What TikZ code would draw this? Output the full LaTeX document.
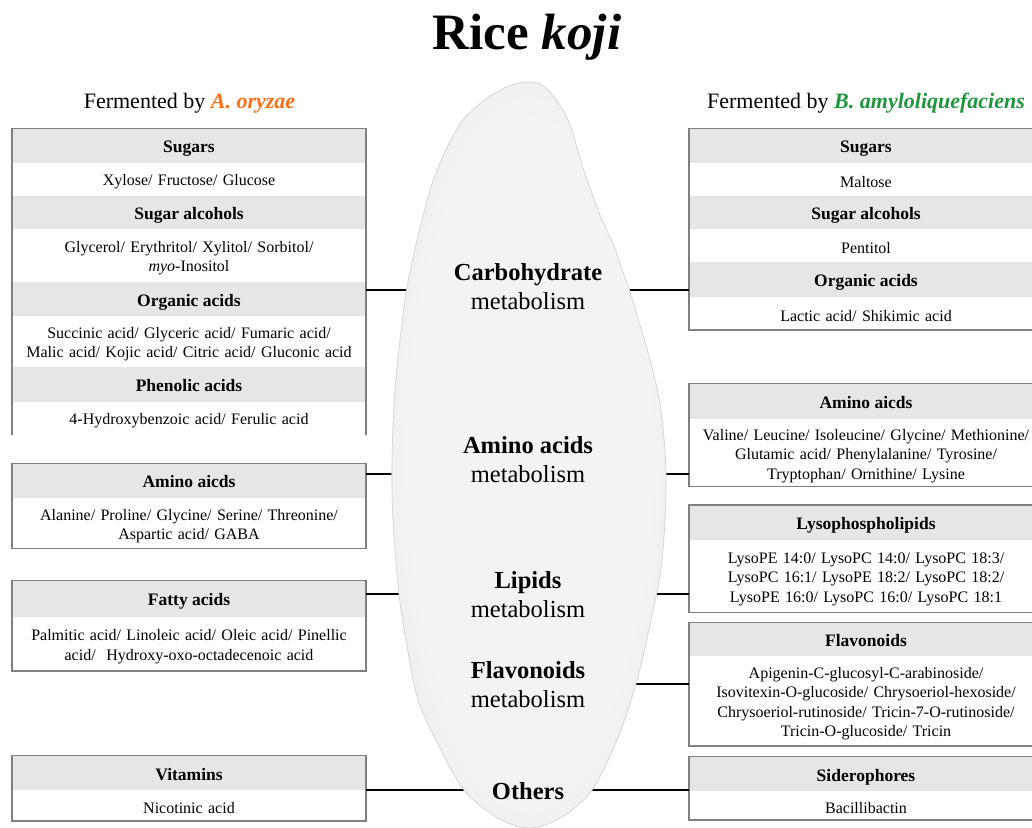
\documentclass[tikz,border=0pt]{standalone}
\usepackage{fontspec}
\setmainfont{Liberation Serif}
\usetikzlibrary{positioning}
\definecolor{hdrgray}{RGB}{230,230,230}
\definecolor{framegray}{RGB}{128,128,128}
\definecolor{oryzae}{RGB}{255,110,20}
\definecolor{bacillus}{RGB}{30,150,60}
\definecolor{grainA}{RGB}{243,243,243}
\definecolor{grainB}{RGB}{231,231,231}
\definecolor{grainC}{RGB}{214,214,214}
\pgfdeclareradialshading{grain}{\pgfpoint{0bp}{0bp}}{color(0bp)=(grainA); color(22bp)=(grainA); color(38bp)=(grainB); color(46bp)=(grainB!60!grainC); color(50bp)=(grainC)}

\begin{document}
\begin{tikzpicture}[x=1pt,y=-1pt,
    hdr/.style={fill=hdrgray, minimum width=354pt, minimum height=34.4pt, inner sep=0pt, outer sep=0pt, text height=14.4pt, text depth=0pt, font=\fontsize{17.5}{20}\selectfont\bfseries},
    item/.style={minimum width=354pt, text width=350pt, align=center, inner sep=0pt, outer sep=0pt, execute at begin node={\rule{0pt}{16.5pt}}, font=\fontsize{16}{19.5}\selectfont},
    frame/.style={draw=framegray, line width=1.2pt},
    link/.style={line width=1.7pt},
    stage/.style={align=center, font=\fontsize{24.5}{29}\selectfont}]
    \useasboundingbox (0,0) rectangle (1032,827);

    \node[font=\fontsize{51}{55}\selectfont\bfseries, anchor=base] (title) at (527,49.5) {Rice \textit{koji}};
    \node[font=\fontsize{22}{24}\selectfont, anchor=base] (fermL) at (189.5,108) {Fermented by \textcolor{oryzae}{\textbf{\textit{A. oryzae}}}};
    \node[font=\fontsize{22}{24}\selectfont, anchor=base] (fermR) at (866,108) {Fermented by \textcolor{bacillus}{\textbf{\textit{B. amyloliquefaciens}}}};

    % A. oryzae
    \node[hdr, anchor=north west] (lsug) at (12,128.3) {Sugars};
    \node[item, minimum height=33.3pt, below=0pt of lsug] (lsug2) {Xylose/ Fructose/ Glucose};
    \node[hdr, minimum height=33.3pt, below=0pt of lsug2] (lalc) {Sugar alcohols};
    \node[item, minimum height=52.4pt, below=0pt of lalc] (lalc2) {Glycerol/ Erythritol/ Xylitol/ Sorbitol/\\ \textit{myo}-Inositol};
    \node[hdr, below=0pt of lalc2] (lorg) {Organic acids};
    \node[item, minimum height=51pt, below=0pt of lorg] (lorg2) {Succinic acid/ Glyceric acid/ Fumaric acid/\\ Malic acid/ Kojic acid/ Citric acid/ Gluconic acid};
    \node[hdr, minimum height=34.7pt, below=0pt of lorg2] (lphe) {Phenolic acids};
    \node[item, minimum height=33.3pt, below=0pt of lphe] (lphe2) {4-Hydroxybenzoic acid/ Ferulic acid};
    \draw[frame] (lphe2.south west) |- (lsug.north east) -- (lphe2.south east);

    \node[hdr, minimum height=34.7pt, anchor=north west] (lami) at (12,463.3) {Amino aicds};
    \node[item, minimum height=50.7pt, below=0pt of lami] (lami2) {Alanine/ Proline/ Glycine/ Serine/ Threonine/\\ Aspartic acid/ GABA};
    \draw[frame] (lami.north west) rectangle (lami2.south east);

    \node[hdr, minimum height=36.4pt, anchor=north west] (lfat) at (12,580.3) {Fatty acids};
    \node[item, minimum height=54.3pt, below=0pt of lfat] (lfat2) {Palmitic acid/ Linoleic acid/ Oleic acid/ Pinellic\\ acid/~ Hydroxy-oxo-octadecenoic acid};
    \draw[frame] (lfat.north west) rectangle (lfat2.south east);

    \node[hdr, minimum height=34.3pt, anchor=north west] (lvit) at (12,755.7) {Vitamins};
    \node[item, minimum height=31pt, below=0pt of lvit] (lvit2) {Nicotinic acid};
    \draw[frame] (lvit.north west) rectangle (lvit2.south east);

    % B. amyloliquefaciens
    \node[hdr, anchor=north west] (rsug) at (689,128.3) {Sugars};
    \node[item, minimum height=33.3pt, below=0pt of rsug] (rsug2) {Maltose};
    \node[hdr, minimum height=33.3pt, below=0pt of rsug2] (ralc) {Sugar alcohols};
    \node[item, minimum height=32.4pt, below=0pt of ralc] (ralc2) {Pentitol};
    \node[hdr, minimum height=35pt, below=0pt of ralc2] (rorg) {Organic acids};
    \node[item, minimum height=33.3pt, below=0pt of rorg] (rorg2) {Lactic acid/ Shikimic acid};
    \draw[frame] (rsug.north west) rectangle (rorg2.south east);

    \node[hdr, minimum height=36pt, anchor=north west] (rami) at (689,383.3) {Amino aicds};
    \node[item, minimum height=67.4pt, below=0pt of rami] (rami2) {Valine/ Leucine/ Isoleucine/ Glycine/ Methionine/\\ Glutamic acid/ Phenylalanine/ Tyrosine/\\ Tryptophan/ Ornithine/ Lysine};
    \draw[frame] (rami.north west) rectangle (rami2.south east);

    \node[hdr, minimum height=35pt, anchor=north west] (rlys) at (689,505) {Lysophospholipids};
    \node[item, minimum height=72.3pt, below=0pt of rlys] (rlys2) {LysoPE 14:0/ LysoPC 14:0/ LysoPC 18:3/\\ LysoPC 16:1/ LysoPE 18:2/ LysoPC 18:2/\\ LysoPE 16:0/ LysoPC 16:0/ LysoPC 18:1};
    \draw[frame] (rlys.north west) rectangle (rlys2.south east);

    \node[hdr, minimum height=33.3pt, anchor=north west] (rfla) at (689,622.7) {Flavonoids};
    \node[item, minimum height=90pt, below=0pt of rfla] (rfla2) {Apigenin-C-glucosyl-C-arabinoside/\\ Isovitexin-O-glucoside/ Chrysoeriol-hexoside/\\ Chrysoeriol-rutinoside/ Tricin-7-O-rutinoside/\\ Tricin-O-glucoside/ Tricin};
    \draw[frame] (rfla.north west) rectangle (rfla2.south east);

    \node[hdr, minimum height=34.3pt, anchor=north west] (rsid) at (689,756.7) {Siderophores};
    \node[item, minimum height=29pt, below=0pt of rsid] (rsid2) {Bacillibactin};
    \draw[frame] (rsid.north west) rectangle (rsid2.south east);

    % links into the grain
    \coordinate (carb) at (528,289.7);
    \coordinate (amino) at (528,473.7);
    \coordinate (lipid) at (528,594.3);
    \coordinate (flavo) at (528,684.3);
    \coordinate (other) at (528,790);
    \draw[link] (lorg.east |- carb) -- (carb);
    \draw[link] (lami.east |- amino) -- (amino);
    \draw[link] (lfat.east |- lipid) -- (lipid);
    \draw[link] (lvit.east |- other) -- (other);
    \draw[link] (rorg.west |- carb) -- (carb);
    \draw[link] (rami2.west |- amino) -- (amino);
    \draw[link] (rlys2.west |- lipid) -- (lipid);
    \draw[link] (rfla2.west |- flavo) -- (flavo);
    \draw[link] (rsid.west |- other) -- (other);

    % rice grain
    \shade[shading=grain, draw=grainC, line width=0.8pt] plot[smooth cycle, tension=0.55] coordinates {
        (530,82) (548,90) (568,120) (583,168) (600,215) (614,246) (623,272)
        (634,305) (658,393) (666,474) (662,560) (650,625) (636,684) (617,740)
        (592,790) (562,817) (530,828) (498,818) (464,790) (440,748) (418,700)
        (406,640) (399,594) (393,520) (392,460) (395,390) (403,315) (410,272)
        (422,220) (437,170) (463,120) (500,90)};

    \node[stage] (carbtxt) at (528,286.5) {\textbf{Carbohydrate}\\metabolism};
    \node[stage] (aminotxt) at (528,460) {\textbf{Amino acids}\\metabolism};
    \node[stage] (lipidtxt) at (528,595) {\textbf{Lipids}\\metabolism};
    \node[stage] (flavotxt) at (528,685) {\textbf{Flavonoids}\\metabolism};
    \node[stage, anchor=base] (othertxt) at (528,799) {\textbf{Others}};
\end{tikzpicture}
\end{document}
